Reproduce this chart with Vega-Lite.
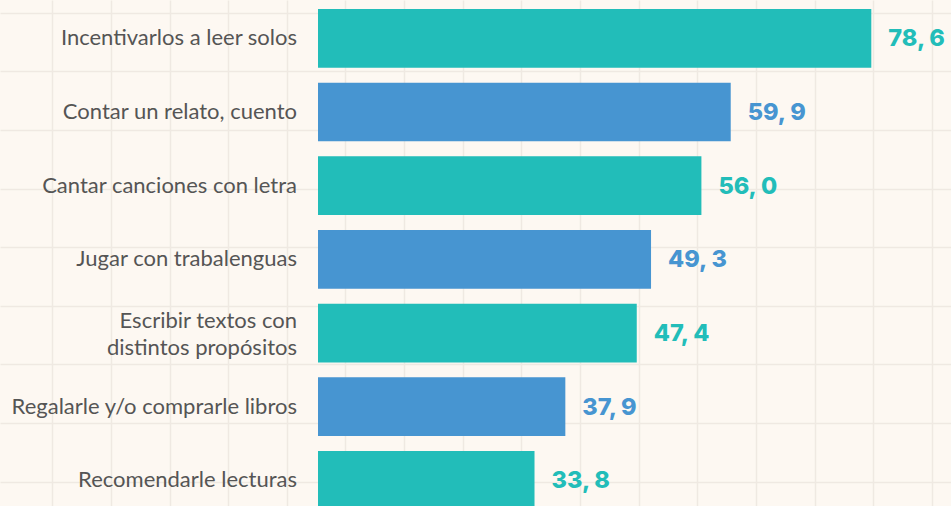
{
  "$schema": "https://vega.github.io/schema/vega-lite/v6.json",
  "width": 951,
  "height": 506,
  "autosize": {"type": "none"},
  "padding": 0,
  "background": "#FDF8F2",
  "config": {"view": {"stroke": null}},
  "data": {
    "values": [
      {"actividad": "Incentivarlos a leer solos", "valor": 78.6},
      {"actividad": "Contar un relato, cuento", "valor": 59.9},
      {"actividad": "Cantar canciones con letra", "valor": 56.0},
      {"actividad": "Jugar con trabalenguas", "valor": 49.3},
      {"actividad": "Escribir textos con\ndistintos propósitos", "valor": 47.4},
      {"actividad": "Regalarle y/o comprarle libros", "valor": 37.9},
      {"actividad": "Recomendarle lecturas", "valor": 33.8}
    ]
  },
  "layer": [
    {
      "mark": {"type": "point", "opacity": 0},
      "encoding": {
        "x": {
          "datum": 0,
          "type": "quantitative",
          "scale": {"domain": [-0.892, 15.328], "nice": false, "zero": false},
          "axis": {"values": [0,1,2,3,4,5,6,7,8,9,10,11,12,13,14,15], "grid": true, "gridColor": "#EFE9E2", "gridWidth": 1.5, "labels": false, "ticks": false, "domain": false, "title": null}
        },
        "y": {
          "datum": 0,
          "type": "quantitative",
          "scale": {"domain": [-0.2166, 8.414], "nice": false, "zero": false, "reverse": true},
          "axis": {"values": [0,1,2,3,4,5,6,7,8], "grid": true, "gridColor": "#EFE9E2", "gridWidth": 1.5, "labels": false, "ticks": false, "domain": false, "title": null}
        }
      }
    },
    {
      "transform": [
        {"calculate": "replace(format(datum.valor, '.1f'), '.', ', ')", "as": "etiqueta"}
      ],
      "encoding": {
        "y": {
          "field": "actividad",
          "type": "nominal",
          "sort": null,
          "scale": {"range": [0, 518.7], "paddingInner": 0.203, "paddingOuter": 0.122},
          "axis": null
        }
      },
      "layer": [
        {
          "mark": {"type": "bar"},
          "encoding": {
            "x": {"field": "valor", "type": "quantitative", "scale": {"domain": [-37.3, 89.2], "nice": false, "zero": false}, "axis": null},
            "x2": {"datum": 5},
            "color": {
              "field": "actividad",
              "type": "nominal",
              "scale": {
                "domain": ["Incentivarlos a leer solos", "Contar un relato, cuento", "Cantar canciones con letra", "Jugar con trabalenguas", "Escribir textos con\ndistintos propósitos", "Regalarle y/o comprarle libros", "Recomendarle lecturas"],
                "range": ["#22BDB9", "#4795D1", "#22BDB9", "#4795D1", "#22BDB9", "#4795D1", "#22BDB9"]
              },
              "legend": null
            }
          }
        },
        {
          "mark": {"type": "text", "align": "left", "baseline": "middle", "dx": 17, "dy": 1, "font": "Inter", "fontWeight": 800, "fontSize": 23.5},
          "encoding": {
            "x": {"field": "valor", "type": "quantitative"},
            "text": {"field": "etiqueta"},
            "color": {"field": "actividad", "type": "nominal", "legend": null}
          }
        },
        {
          "mark": {"type": "text", "align": "right", "baseline": "middle", "dx": -21, "dy": {"expr": "indexof(datum.actividad, 'propósitos') >= 0 ? -12 : 0"}, "font": "Lato", "fontSize": 22, "color": "#555555", "lineBreak": "\n", "lineHeight": 27},
          "encoding": {
            "x": {"datum": 5, "type": "quantitative"},
            "text": {"field": "actividad"}
          }
        }
      ]
    }
  ],
  "resolve": {"scale": {"x": "independent", "y": "independent"}}
}
